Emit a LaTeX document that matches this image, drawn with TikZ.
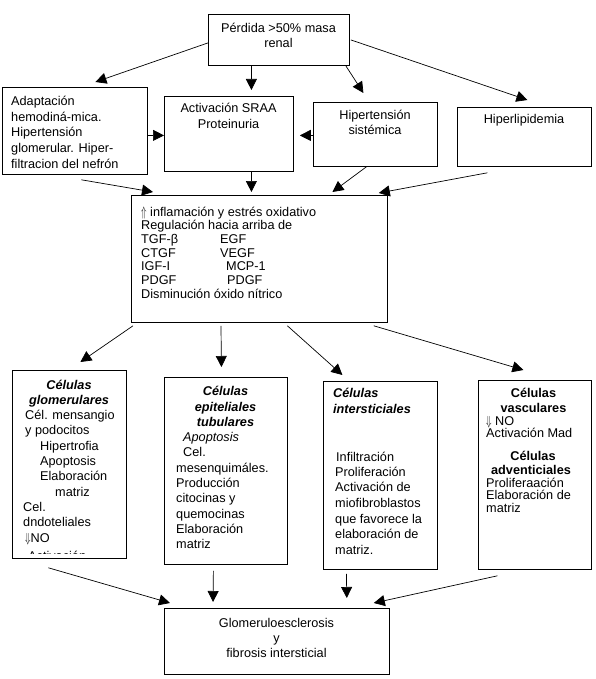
\documentclass[tikz,border=0pt]{standalone}
\usepackage{fontspec}
\setmainfont{Liberation Sans}
\usetikzlibrary{arrows.meta,calc}
\newcommand{\upar}{\scalebox{0.75}[1.15]{$\Uparrow$}}
\newcommand{\dnar}{\scalebox{0.75}[1.1]{$\Downarrow$}}
\begin{document}
\begin{tikzpicture}[x=1pt,y=-1pt,
  box/.style={draw,line width=0.8pt,inner sep=0pt,anchor=north west},
  txt/.style={inner sep=0pt,font=\fontsize{12.7}{14}\selectfont},
  tl/.style={txt,anchor=base west},
  tc/.style={txt,anchor=base},
  bi/.style={font=\fontsize{12.7}{14}\selectfont\bfseries\itshape},
  bo/.style={font=\fontsize{12.7}{14}\selectfont\bfseries},
  it/.style={font=\fontsize{12.7}{14}\selectfont\itshape},
  arr/.style={line width=0.7pt,-{Triangle[length=11pt,width=11pt]}}]
\fill[white] (0,0) rectangle (595,679);
\useasboundingbox (0,0) rectangle (595,679);

% boxes
\node[box,minimum width=141pt,minimum height=51pt] (top) at (208,14) {};
\node[box,minimum width=145pt,minimum height=87pt] (adapt) at (2,87) {};
\node[box,minimum width=129pt,minimum height=75pt] (act) at (164,96) {};
\node[box,minimum width=124pt,minimum height=64pt] (hip) at (313,102) {};
\node[box,minimum width=134pt,minimum height=59pt] (lip) at (457,107) {};
\node[box,minimum width=256pt,minimum height=127pt] (mid) at (131,195) {};
\node[box,minimum width=114pt,minimum height=188pt] (glom) at (12,370) {};
\node[box,minimum width=123pt,minimum height=187pt] (tub) at (164,377) {};
\node[box,minimum width=114pt,minimum height=188pt] (inter) at (323,381) {};
\node[box,minimum width=113pt,minimum height=189pt] (vasc) at (478,380) {};
\node[box,minimum width=225pt,minimum height=66pt] (bot) at (164,608) {};

% top row texts
\node[tc] (topA) at (278.5,33) {Pérdida >50\% masa};
\node[tc] (topB) at (278.5,48) {renal};
\foreach \yy/\tx [count=\i] in {106/Adaptación, 121.5/hemodiná-mica., 137/Hipertensión,
  152.5/glomerular. Hiper-, 168/filtracion del nefrón}
  \node[tl] (adapt\i) at (11,\yy) {\tx};
\node[tc] (actA) at (228.5,113) {Activación SRAA};
\node[tc] (actB) at (228.5,129) {Proteinuria};
\node[tc] (hipA) at (375,120) {Hipertensión};
\node[tc] (hipB) at (375,135) {sistémica};
\node[tc] (lipA) at (524,124) {Hiperlipidemia};

% middle box text
\foreach \yy/\tx [count=\i] in {216/{\upar\ inflamación y estrés oxidativo},
  229.7/Regulación hacia arriba de, 243.4/TGF-β, 257.1/CTGF, 270.8/IGF-I, 284.5/PDGF,
  298.2/Disminución óxido nítrico}
  \node[tl] (mid\i) at (141,\yy) {\tx};
\node[tl] (midE) at (220,243.4) {EGF};
\node[tl] (midV) at (220,257.1) {VEGF};
\node[tl] (midM) at (226,270.8) {MCP-1};
\node[tl] (midP) at (227,284.5) {PDGF};

% glomerulares
\node[tc,bi] (glomA) at (69,389) {Células};
\node[tc,bi] (glomB) at (69,404) {glomerulares};
\foreach \xx/\yy/\tx [count=\i] in {25/419.6/Cél. mensangio, 25/434.9/y podocitos,
  40/450.2/Hipertrofia, 40/465.5/Apoptosis, 40/480.8/Elaboración, 55/496.1/matriz,
  23/511.4/Cel., 23/526.7/dndoteliales, 25/542.5/{\dnar NO}}
  \node[tl] (glom\i) at (\xx,\yy) {\tx};
\begin{scope}
  \clip (12,370) rectangle (126,553);
  \node[tl] (glomZ) at (28,560.5) {Activación};
\end{scope}

% tubulares
\node[tc,bi] (tubA) at (225.5,395.7) {Células};
\node[tc,bi] (tubB) at (225.5,411) {epiteliales};
\node[tc,bi] (tubC) at (225.5,426.3) {tubulares};
\node[tl,it] (tubD) at (183,441.6) {Apoptosis};
\node[tl] (tubE) at (183,456.9) {Cel.};
\foreach \yy/\tx [count=\i] in {472.2/mesenquimáles., 487.5/Producción, 502.8/citocinas y,
  518.1/quemocinas, 533.4/Elaboración, 548.7/matriz}
  \node[tl] (tub\i) at (176,\yy) {\tx};

% intersticiales
\node[tl,bi] (intA) at (333,397.3) {Células};
\node[tl,bi] (intB) at (333,413.3) {intersticiales};
\foreach \xx/\yy/\tx [count=\i] in {336/461.7/Infiltración, 335/476.7/Proliferación,
  335/491.7/Activación de, 335/507.3/miofibroblastos, 335/523/que favorece la,
  335/538.5/elaboración de, 335/554/matriz.}
  \node[tl] (int\i) at (\xx,\yy) {\tx};

% vasculares
\node[tc,bo] (vasA) at (533.5,397.3) {Células};
\node[tc,bo] (vasB) at (533.5,412.3) {vasculares};
\node[tl] (vasC) at (486,425) {\dnar\ NO};
\node[tl] (vasD) at (486,437.8) {Activación Mad};
\node[tc,bo] (vasE) at (533,460.7) {Células};
\node[tc,bo] (vasF) at (531,474.5) {adventiciales};
\node[tl] (vasG) at (486,487.5) {Proliferaación};
\node[tl] (vasH) at (486,499.7) {Elaboración de};
\node[tl] (vasI) at (486,512.3) {matriz};

% bottom
\node[tc] (botA) at (276.5,627) {Glomeruloesclerosis};
\node[tc] (botB) at (276.5,642) {y};
\node[tc] (botC) at (276.5,657) {fibrosis intersticial};

% connectors
\draw[arr] ($(top.west)+(0,3)$) -- ($(adapt.north)+(20.5,-5)$);
\draw[arr] ($(top.south)+(-27.5,0)$) -- ($(act.north)+(22.5,-6)$);
\draw[arr] ($(top.south east)+(-4,0)$) -- ($(hip.north)+(-12,-9)$);
\draw[arr] ($(top.east)+(1,0)$) -- ($(lip.north)+(3,-7)$);
\draw[arr] ($(adapt.east)+(0,4.5)$) -- ($(act.west)+(0,1.5)$);
\draw[arr] ($(hip.west)+(0,1)$) -- ($(act.east)+(6,1.5)$);
\draw[arr] ($(adapt.south)+(6.5,5)$) -- ($(mid.north west)+(22,-3)$);
\draw[arr] ($(act.south)+(22.5,0)$) -- ($(mid.north)+(-8,-3)$);
\draw[arr] ($(hip.south)+(-9,0)$) -- ($(mid.north)+(73,-3)$);
\draw[arr] ($(lip.south)+(-37,6)$) -- ($(mid.north east)+(-9,-2)$);
\draw[arr] ($(mid.south west)+(2,3)$) -- ($(glom.north)+(11,-8)$);
\draw[arr] ($(mid.south west)+(90,3)$) -- ($(tub.north)+(-4.5,-10)$);
\draw[arr] ($(mid.south)+(28,3)$) -- ($(inter.north)+(-38,-6)$);
\draw[arr] ($(mid.south east)+(-14,3)$) -- ($(vasc.north)+(-11.5,-10)$);
\draw[arr] ($(glom.south)+(-21,9)$) -- ($(bot.north west)+(6,-5)$);
\draw[arr] ($(tub.south)+(-12.5,6)$) -- ($(bot.north west)+(49,-6)$);
\draw[arr] ($(inter.south)+(-34,4)$) -- ($(bot.north east)+(-43,-10)$);
\draw[arr] ($(vasc.south)+(-37.5,6)$) -- ($(bot.north east)+(-16,-5)$);
\end{tikzpicture}
\end{document}
